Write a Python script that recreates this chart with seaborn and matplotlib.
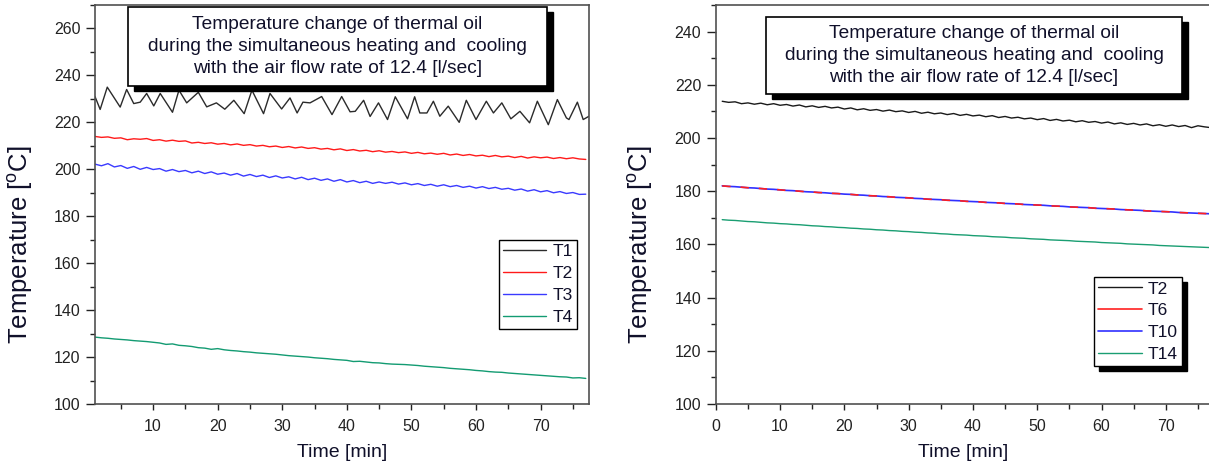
import matplotlib
matplotlib.use("Agg")
import matplotlib.pyplot as plt
import matplotlib.transforms as mtransforms
from matplotlib.patches import Rectangle
from matplotlib.ticker import MultipleLocator
import numpy as np
import seaborn as sns

# ---- data ----
title = ("Temperature change of thermal oil\n"
         "during the simultaneous heating and  cooling\n"
         "with the air flow rate of 12.4 [l/sec]")

minutes = list(range(1, 78))

# left panel, T1 is a zigzag, stored as its vertices
t1_time = [1.0, 1.8, 2.9, 4.9, 5.9, 7.0, 8.0, 9.0, 10.1, 11.1, 13.0, 14.0, 15.2, 17.0,
           18.3, 19.8, 21.1, 22.5, 24.1, 25.3, 27.1, 28.1, 29.9, 31.2, 32.3, 33.2, 34.3,
           36.1, 37.7, 39.2, 40.5, 41.3, 42.6, 43.6, 44.9, 46.3, 47.5, 49.4, 50.5, 51.3,
           52.4, 53.4, 54.4, 55.7, 57.4, 58.5, 60.0, 61.6, 62.7, 64.0, 65.4, 66.8, 68.3,
           69.5, 71.2, 72.6, 74.0, 74.4, 75.7, 76.6, 77.5]
t1_vals = [231.0, 225.5, 235.0, 226.5, 234.0, 228.0, 228.6, 232.3, 227.0, 232.3, 224.3, 233.7,
           228.3, 232.8, 226.6, 228.3, 225.6, 229.4, 223.7, 233.7, 223.7, 232.3, 225.7, 230.4,
           224.0, 228.6, 228.3, 231.0, 223.3, 231.0, 224.5, 224.7, 229.4, 222.5, 228.3, 221.2,
           230.9, 221.5, 230.9, 224.0, 224.0, 229.0, 222.6, 226.9, 220.0, 229.4, 221.2, 229.0,
           224.0, 228.3, 221.5, 224.7, 219.8, 229.0, 219.0, 229.7, 221.9, 221.2, 228.6, 221.2,
           222.6]

t2_left = [214.0, 213.6, 213.8, 213.2, 213.4, 212.6, 213.0, 212.8, 213.1, 212.3, 212.6, 212.0,
           212.4, 211.9, 212.1, 211.2, 211.5, 211.0, 211.3, 210.7, 211.0, 210.4, 210.8, 210.2,
           210.5, 209.9, 210.2, 209.6, 209.9, 209.3, 209.7, 209.1, 209.5, 208.9, 209.2, 208.6,
           208.9, 208.3, 208.7, 208.0, 208.4, 207.8, 208.1, 207.5, 207.9, 207.3, 207.6, 207.1,
           207.4, 206.8, 207.2, 206.6, 206.9, 206.4, 206.8, 206.1, 206.5, 205.9, 206.3, 205.7,
           206.0, 205.4, 205.9, 205.3, 205.6, 205.0, 205.5, 204.8, 205.3, 204.9, 205.2, 204.6,
           205.0, 204.5, 204.9, 204.4, 204.2]

t3_left = [202.2, 201.5, 202.4, 201.0, 201.6, 200.4, 201.2, 200.0, 200.8, 199.9, 200.3, 199.2,
           199.9, 199.0, 199.5, 198.5, 199.2, 198.2, 198.9, 197.9, 198.4, 197.5, 198.2, 197.1,
           197.8, 196.9, 197.5, 196.5, 197.2, 196.3, 196.8, 195.9, 196.6, 195.6, 196.2, 195.3,
           195.9, 194.9, 195.6, 194.6, 195.2, 194.3, 194.9, 194.0, 194.6, 194.0, 194.5, 193.7,
           194.2, 193.4, 193.9, 193.1, 193.6, 192.8, 193.4, 192.6, 193.1, 192.3, 192.8, 192.0,
           192.6, 191.8, 192.3, 191.5, 191.9, 191.1, 191.6, 190.7, 191.3, 190.4, 190.9, 190.0,
           190.5, 189.7, 190.1, 189.3, 189.4]

t4_left = [128.5, 128.2, 128.0, 127.7, 127.5, 127.3, 127.0, 126.8, 126.6, 126.3, 126.0, 125.4,
           125.6, 125.0, 124.8, 124.5, 124.0, 123.8, 123.3, 123.6, 123.1, 122.8, 122.6, 122.3,
           122.1, 121.8, 121.6, 121.4, 121.2, 120.9, 120.6, 120.4, 120.2, 120.0, 119.7, 119.5,
           119.3, 119.0, 118.8, 118.6, 118.1, 118.2, 117.9, 117.6, 117.5, 117.2, 117.0, 116.9,
           116.8, 116.6, 116.4, 116.1, 115.9, 115.7, 115.5, 115.2, 115.0, 114.8, 114.6, 114.3,
           114.1, 113.8, 113.6, 113.5, 113.2, 113.0, 112.8, 112.6, 112.4, 112.2, 112.0, 111.8,
           111.6, 111.5, 111.1, 111.2, 110.9]

# right panel
t2_right = [213.8, 213.4, 213.6, 212.9, 213.2, 212.7, 213.1, 212.5, 212.9, 212.3, 212.6, 212.0,
            212.4, 211.7, 212.1, 211.5, 211.9, 211.3, 211.6, 210.9, 211.3, 210.6, 211.0, 210.4,
            210.7, 210.1, 210.5, 209.9, 210.2, 209.6, 210.0, 209.3, 209.7, 209.1, 209.4, 208.8,
            209.2, 208.5, 208.9, 208.3, 208.6, 208.0, 208.4, 207.7, 208.1, 207.5, 207.8, 207.2,
            207.5, 206.9, 207.3, 206.6, 207.0, 206.4, 206.7, 206.1, 206.5, 205.9, 206.2, 205.6,
            206.0, 205.3, 205.7, 205.1, 205.5, 204.9, 205.3, 204.6, 205.0, 204.4, 204.9, 204.3,
            204.7, 203.9, 204.6, 204.2, 203.9]

t6_right = [182.0, 181.8, 181.7, 181.5, 181.3, 181.2, 181.0, 180.8, 180.7, 180.5, 180.3, 180.2,
            180.0, 179.8, 179.7, 179.5, 179.4, 179.2, 179.1, 178.9, 178.8, 178.6, 178.5, 178.3,
            178.2, 178.0, 177.9, 177.7, 177.6, 177.5, 177.3, 177.2, 177.0, 176.9, 176.8, 176.6,
            176.5, 176.4, 176.2, 176.1, 176.0, 175.8, 175.7, 175.6, 175.4, 175.3, 175.2, 175.0,
            174.9, 174.8, 174.7, 174.5, 174.4, 174.3, 174.1, 174.0, 173.9, 173.8, 173.6, 173.5,
            173.4, 173.3, 173.1, 173.0, 172.9, 172.8, 172.6, 172.5, 172.4, 172.3, 172.2, 172.0,
            171.9, 171.8, 171.7, 171.6, 171.5]

# T10 lies right on top of T6 in the picture
t10_right = list(t6_right)

t14_right = [169.3, 169.1, 169.0, 168.8, 168.6, 168.5, 168.3, 168.1, 168.0, 167.8, 167.7, 167.5,
             167.4, 167.2, 167.0, 166.9, 166.7, 166.6, 166.4, 166.3, 166.1, 166.0, 165.8, 165.7,
             165.5, 165.4, 165.2, 165.1, 164.9, 164.8, 164.6, 164.5, 164.3, 164.2, 164.0, 163.9,
             163.7, 163.6, 163.5, 163.3, 163.2, 163.1, 162.9, 162.8, 162.7, 162.5, 162.4, 162.3,
             162.1, 162.0, 161.9, 161.7, 161.6, 161.5, 161.4, 161.2, 161.1, 161.0, 160.9, 160.7,
             160.6, 160.5, 160.4, 160.2, 160.1, 160.0, 159.9, 159.8, 159.6, 159.5, 159.4, 159.3,
             159.2, 159.1, 159.0, 158.9, 158.8]

# ---- style ----
sns.set_style("ticks")
plt.rcParams['font.family'] = ['Liberation Sans', 'DejaVu Sans']
plt.rcParams['mathtext.fontset'] = 'custom'
plt.rcParams['mathtext.rm'] = 'Liberation Sans'

text_col = '#10102a'
ylabel = r'Temperature [$^\mathrm{o}$C]'

fig = plt.figure(figsize=(12.09, 4.65), dpi=100)
fig.patch.set_facecolor('white')
ax1 = fig.add_axes([95 / 1209, 61 / 465, 494 / 1209, 399 / 465])
ax2 = fig.add_axes([715.8 / 1209, 61 / 465, 495 / 1209, 399 / 465])


def title_box(ax, x0, y0, x1, y1):
    sh = mtransforms.offset_copy(ax.transAxes, fig=fig, x=6, y=-5, units='dots')
    ax.add_patch(Rectangle((x0, y0), x1 - x0, y1 - y0, transform=sh,
                           fc='black', ec='black', zorder=5, clip_on=False))
    ax.add_patch(Rectangle((x0, y0), x1 - x0, y1 - y0, transform=ax.transAxes,
                           fc='white', ec='black', lw=1.2, zorder=6, clip_on=False))
    ax.text((x0 + x1) / 2, (y0 + y1) / 2, title, ha='center', va='center',
            transform=ax.transAxes, zorder=7, fontsize=13.8, linespacing=1.42,
            color=text_col)


def style_axes(ax, xlim, ylim):
    ax.set_xlim(*xlim)
    ax.set_ylim(*ylim)
    ax.xaxis.set_major_locator(MultipleLocator(10))
    ax.xaxis.set_minor_locator(MultipleLocator(5))
    ax.yaxis.set_major_locator(MultipleLocator(20))
    ax.yaxis.set_minor_locator(MultipleLocator(10))
    for s in ax.spines.values():
        s.set_color('#505050')
        s.set_linewidth(1.2)
    ax.tick_params(axis='y', which='major', length=6.5, width=1, pad=4,
                   labelsize=11.5, colors='#222222')
    ax.tick_params(axis='y', which='minor', length=3.6, width=1, colors='#222222')
    ax.tick_params(axis='x', which='major', length=4.5, width=1, pad=6,
                   labelsize=11.5, colors='#222222')
    ax.tick_params(axis='x', which='minor', length=3.5, width=1, colors='#222222')
    ax.set_xlabel('Time [min]', fontsize=14, color=text_col)
    ax.set_ylabel(ylabel, fontsize=18.5, color=text_col)
    ax.xaxis.set_label_coords(0.5, -0.10)
    ax.yaxis.set_label_coords(-0.122, 0.40)


# ---- left panel ----
sns.lineplot(x=t1_time, y=t1_vals, ax=ax1, color='#2b2b2b', lw=1.0,
             estimator=None, sort=False, label='T1')
sns.lineplot(x=minutes, y=t2_left, ax=ax1, color='#ff1a1a', lw=1.0,
             estimator=None, label='T2')
sns.lineplot(x=minutes, y=t3_left, ax=ax1, color='#3a3aff', lw=1.0,
             estimator=None, label='T3')
sns.lineplot(x=minutes, y=t4_left, ax=ax1, color='#139b72', lw=1.0,
             estimator=None, label='T4')
style_axes(ax1, (1, 77.5), (100, 270))
title_box(ax1, 0.067, 0.797, 0.915, 0.995)
leg1 = ax1.legend(loc='lower right', bbox_to_anchor=(0.976, 0.188), borderaxespad=0,
                  fancybox=False, framealpha=1, edgecolor='black', fontsize=12.5,
                  handlelength=2.5, handletextpad=0.35, labelspacing=0.38,
                  borderpad=0.25)
leg1.get_frame().set_linewidth(1.0)
for t in leg1.get_texts():
    t.set_color(text_col)

# ---- right panel ----
sns.lineplot(x=minutes, y=t2_right, ax=ax2, color='#1a1a1a', lw=1.0,
             estimator=None, label='T2')
sns.lineplot(x=minutes, y=t10_right, ax=ax2, color='#3030ff', lw=1.2,
             estimator=None, label='T10')
sns.lineplot(x=minutes, y=t6_right, ax=ax2, color='#ff2020', lw=1.2,
             estimator=None, label='T6', linestyle=(0, (5, 6)))
sns.lineplot(x=minutes, y=t14_right, ax=ax2, color='#1a9e72', lw=1.0,
             estimator=None, label='T14')
style_axes(ax2, (0, 77), (100, 250))
ax2.spines['right'].set_visible(False)
title_box(ax2, 0.101, 0.777, 0.942, 0.970)
lines = ax2.get_lines()
leg2 = ax2.legend(handles=[lines[0], lines[2], lines[1], lines[3]],
                  labels=['T2', 'T6', 'T10', 'T14'],
                  loc='lower right', bbox_to_anchor=(0.942, 0.095), borderaxespad=0,
                  fancybox=False, framealpha=1, edgecolor='black', fontsize=12.5,
                  handlelength=2.5, handletextpad=0.35, labelspacing=0.38,
                  borderpad=0.25,
                  shadow={'ox': 3.6, 'oy': -3.6, 'color': 'black', 'alpha': 1})
leg2.get_frame().set_linewidth(1.0)
leg2.get_lines()[1].set_linestyle('-')
for t in leg2.get_texts():
    t.set_color(text_col)

fig.savefig('out.png', dpi=100, facecolor='white')
